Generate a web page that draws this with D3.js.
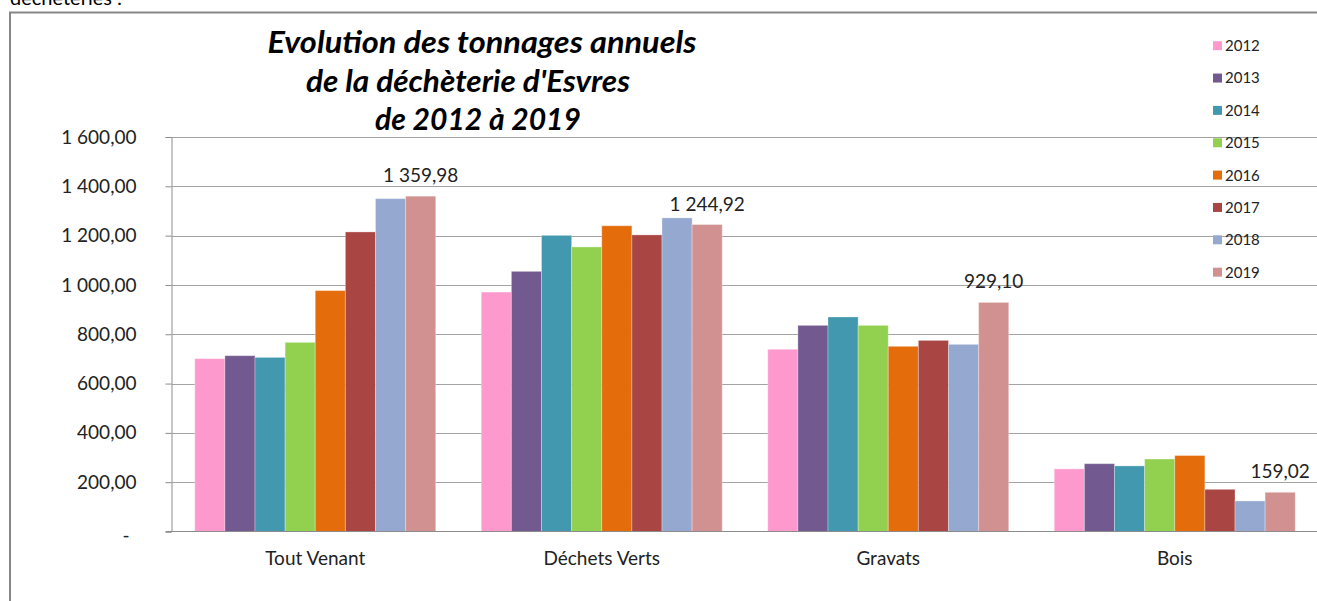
<!DOCTYPE html>
<html>
<head>
<meta charset="utf-8">
<script src="https://cdn.jsdelivr.net/npm/d3@7/dist/d3.min.js"></script>
<style>
  html, body { margin: 0; padding: 0; background: #fff; overflow: hidden; }
  svg { display: block; }
  text { font-family: Lato, "Open Sans", sans-serif; }
</style>
</head>
<body>
<script>
// data
const categories = ['Tout Venant', 'Déchets Verts', 'Gravats', 'Bois'];
const years = ['2012', '2013', '2014', '2015', '2016', '2017', '2018', '2019'];
const toutVenant   = [701, 713, 706, 767, 977, 1215, 1350, 1359.98];
const dechetsVerts = [971, 1055, 1201, 1154, 1240, 1203, 1272, 1244.92];
const gravats      = [739, 836, 870, 836, 751, 775, 759, 929.10];
const bois         = [254, 275, 266, 294, 308, 171, 124, 159.02];
const yTicks = [0, 200, 400, 600, 800, 1000, 1200, 1400, 1600];
const colors = ['#fd99cc', '#725990', '#4198af', '#92d050', '#e46c0a', '#a94644', '#95a9d0', '#d29191'];
const titleLines = ['Evolution des tonnages annuels', "de la déchèterie d'Esvres", 'de 2012 à 2019'];

const seriesByCat = [toutVenant, dechetsVerts, gravats, bois];

function renderChart() {
  const width = 1317;
  const height = 601;
  const margin = { top: 137, right: -1, bottom: 70, left: 172 };

  const svg = d3.select('body')
    .append('svg')
    .attr('width', width)
    .attr('height', height);

  // text cut at the top of the screenshot (as in the reference)
  svg.append('text')
    .attr('x', 10)
    .attr('y', 5)
    .attr('font-size', 20)
    .attr('fill', '#000')
    .text('déchèteries :');

  // chart frame (only top and left edges are inside the picture)
  const frame = svg.append('g')
    .attr('stroke', '#878787')
    .attr('stroke-width', 2);
  frame.append('line').attr('x1', 9).attr('x2', width).attr('y1', 12.5).attr('y2', 12.5);
  frame.append('line').attr('x1', 10).attr('x2', 10).attr('y1', 12).attr('y2', height);

  const fr = d3.formatLocale({ decimal: ',', thousands: '\u00a0', grouping: [3], currency: ['', ''] });
  const fmt = fr.format(',.2f');

  // scales
  const x0 = d3.scaleBand()
    .domain(categories)
    .range([margin.left, width - margin.right])
    .paddingInner(0.159)
    .paddingOuter(0.0795);

  const x1 = d3.scaleBand()
    .domain(years)
    .range([0, x0.bandwidth()]);

  const y = d3.scaleLinear()
    .domain([0, 1600])
    .range([531.5, 137]);

  // gridlines
  svg.append('g')
    .selectAll('line')
    .data(yTicks.slice(1))
    .join('line')
    .attr('x1', margin.left)
    .attr('x2', width)
    .attr('y1', (d) => Math.round(y(d)) + 0.5)
    .attr('y2', (d) => Math.round(y(d)) + 0.5)
    .attr('stroke', '#a3a3a3')
    .attr('stroke-width', 1);

  // bars
  const groups = svg.append('g')
    .selectAll('g')
    .data(categories)
    .join('g')
    .attr('transform', (d) => `translate(${x0(d)},0)`);

  groups.selectAll('rect')
    .data((d, i) => years.map((yr, j) => ({ yr, j, v: seriesByCat[i][j] })))
    .join('rect')
    .attr('x', (d) => x1(d.yr))
    .attr('y', (d) => y(d.v))
    .attr('width', x1.bandwidth())
    .attr('height', (d) => y(0) - y(d.v))
    .attr('fill', (d) => colors[d.j])
    .attr('stroke', '#fff')
    .attr('stroke-opacity', 0.3)
    .attr('stroke-width', 1);

  // data labels for 2019 only
  groups.append('text')
    .attr('x', x1('2019') + x1.bandwidth() / 2)
    .attr('y', (d, i) => y(seriesByCat[i][7]) - 14)
    .attr('text-anchor', 'middle')
    .attr('font-size', 19)
    .attr('fill', '#222')
    .text((d, i) => fmt(seriesByCat[i][7]));

  // y axis
  const yAxis = d3.axisLeft(y)
    .tickValues(yTicks)
    .tickSize(6)
    .tickPadding(29)
    .tickFormat((d) => (d === 0 ? '-' : fmt(d)));

  const yg = svg.append('g')
    .attr('transform', `translate(${margin.left - 0.5}, 0)`)
    .call(yAxis);

  yg.select('.domain').attr('stroke', '#8c8c8c');
  yg.selectAll('.tick line').attr('stroke', '#8c8c8c');
  yg.selectAll('.tick text')
    .attr('font-size', 19)
    .attr('font-family', 'Lato, sans-serif')
    .attr('fill', '#222');
  yg.selectAll('.tick')
    .filter((d) => d === 0)
    .select('text')
    .attr('x', -42)
    .attr('dy', '0.5em');

  // x baseline
  svg.append('line')
    .attr('x1', 166)
    .attr('x2', width)
    .attr('y1', 531.5)
    .attr('y2', 531.5)
    .attr('stroke', '#8c8c8c');

  // category labels
  svg.append('g')
    .selectAll('text')
    .data(categories)
    .join('text')
    .attr('x', (d) => x0(d) + x0.bandwidth() / 2)
    .attr('y', 565)
    .attr('text-anchor', 'middle')
    .attr('font-size', 19)
    .attr('fill', '#222')
    .text((d) => d);

  // title
  const titleWidths = [429, 324, 206];
  const titleX = [482, 468, 478];
  svg.append('g')
    .selectAll('text')
    .data(titleLines)
    .join('text')
    .attr('x', (d, i) => titleX[i])
    .attr('y', (d, i) => 53 + i * 38.5)
    .attr('text-anchor', 'middle')
    .attr('font-size', 30)
    .attr('font-weight', 'bold')
    .attr('font-style', 'italic')
    .attr('fill', '#000')
    .attr('textLength', (d, i) => titleWidths[i])
    .attr('lengthAdjust', 'spacingAndGlyphs')
    .text((d) => d);

  // legend
  const legend = svg.append('g')
    .selectAll('g')
    .data(years)
    .join('g')
    .attr('transform', (d, i) => `translate(1213, ${45.7 + i * 32.35})`);

  legend.append('rect')
    .attr('x', 0)
    .attr('y', -4.5)
    .attr('width', 9)
    .attr('height', 9)
    .attr('fill', (d, i) => colors[i]);

  legend.append('text')
    .attr('x', 12)
    .attr('y', 0)
    .attr('dy', '0.36em')
    .attr('font-size', 15)
    .attr('fill', '#222')
    .text((d) => d);
}

renderChart();
</script>
</body>
</html>
